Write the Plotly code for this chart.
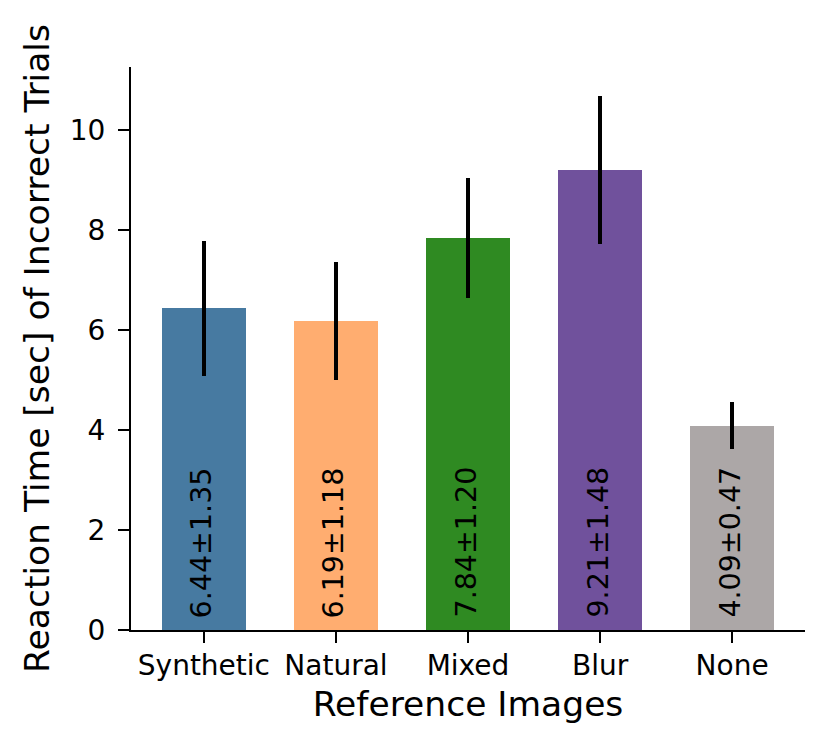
import plotly.graph_objects as go

categories = ["Synthetic", "Natural", "Mixed", "Blur", "None"]
means = [6.44, 6.19, 7.84, 9.21, 4.09]
errors = [1.35, 1.18, 1.20, 1.48, 0.47]
colors = ["#477aa1", "#ffad70", "#2f8a22", "#70519c", "#aca7a7"]
y_ticks = [0, 2, 4, 6, 8, 10]

FONT = "DejaVu Sans"
xpos = list(range(len(categories)))

fig = go.Figure()
fig.add_trace(go.Bar(
    x=xpos, y=means, width=0.64,
    marker=dict(color=colors, line=dict(width=0)),
    error_y=dict(type="data", array=errors, visible=True, color="black",
                 thickness=3.5, width=0),
    showlegend=False, hoverinfo="skip",
))

for x, m, e in zip(xpos, means, errors):
    fig.add_annotation(
        x=x, y=0.2, xref="x", yref="y",
        text=f"{m:.2f}±{e:.2f}", textangle=-90, showarrow=False,
        xanchor="center", yanchor="bottom", xshift=-2,
        font=dict(family=FONT, size=28.5, color="black"),
    )

fig.update_layout(
    width=829, height=753,
    margin=dict(l=123, r=32, t=59, b=131),
    paper_bgcolor="white", plot_bgcolor="white",
    font=dict(family=FONT, size=27, color="black"),
    bargap=0,
)
fig.update_xaxes(
    range=[-0.552, 4.552], tickvals=xpos, ticktext=categories,
    showline=True, linecolor="black", linewidth=2.2,
    ticks="outside", ticklen=11, tickwidth=2.2, tickcolor="black",
    showgrid=False, zeroline=False, ticklabelstandoff=-2,
    tickfont=dict(family=FONT, size=28),
    title=dict(text="Reference Images", font=dict(family=FONT, size=34.5), standoff=11),
)
fig.update_yaxes(
    range=[0, 11.26], tickvals=y_ticks,
    showline=True, linecolor="black", linewidth=2.2,
    ticks="outside", ticklen=11, tickwidth=2.2, tickcolor="black",
    showgrid=False, zeroline=False, ticklabelstandoff=7,
    tickfont=dict(family=FONT, size=28),
    title=dict(text="Reaction Time [sec] of Incorrect Trials", font=dict(family=FONT, size=34.5), standoff=10),
)

fig.write_html("out.html")
